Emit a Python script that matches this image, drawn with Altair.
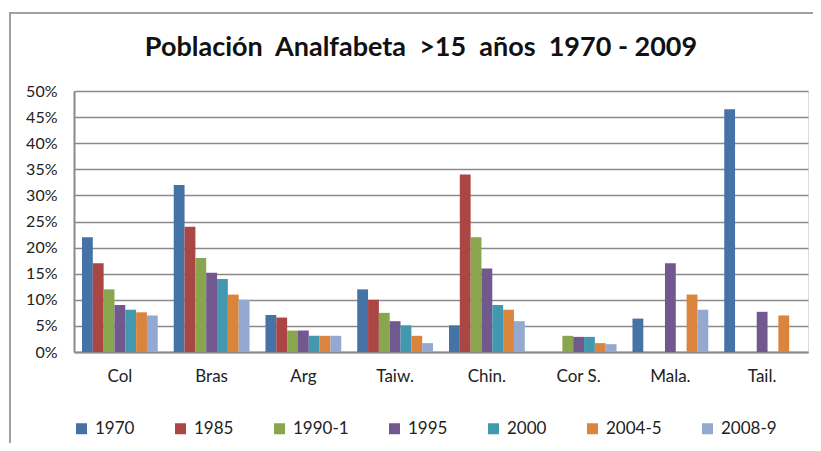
import altair as alt
import pandas as pd

categories = ["Col", "Bras", "Arg", "Taiw.", "Chin.", "Cor S.", "Mala.", "Tail."]
series = ["1970", "1985", "1990-1", "1995", "2000", "2004-5", "2008-9"]
colors = ["#4572A7", "#AA4643", "#89A54E", "#71588F", "#4198AF", "#DB843D", "#93A9CF"]

v1970 = [22.0, 32.0, 7.1, 12.0, 5.1, None, 6.4, 46.5]
v1985 = [17.0, 24.0, 6.6, 10.0, 34.0, None, None, None]
v1990 = [12.0, 18.0, 4.1, 7.5, 22.0, 3.1, None, None]
v1995 = [9.0, 15.2, 4.1, 5.9, 16.0, 2.9, 17.0, 7.7]
v2000 = [8.1, 14.0, 3.1, 5.1, 9.0, 2.9, None, None]
v2004 = [7.6, 11.0, 3.1, 3.1, 8.1, 1.7, 11.0, 7.0]
v2008 = [7.0, 10.0, 3.1, 1.7, 5.9, 1.5, 8.1, None]

values = [v1970, v1985, v1990, v1995, v2000, v2004, v2008]
rows = []
for s, vals in zip(series, values):
    for c, v in zip(categories, vals):
        if v is not None:
            rows.append({"pais": c, "serie": s, "valor": v / 100.0})
df = pd.DataFrame(rows)

FONT = "Lato"
NB = "\u00a0"
title_text = f"Población{NB}{NB}Analfabeta{NB}{NB}>15{NB}{NB}años{NB}{NB}1970 - 2009"

bars = alt.Chart(df).mark_bar().encode(
    x=alt.X("pais:N", sort=categories,
            scale=alt.Scale(paddingInner=0.174, paddingOuter=0.087),
            axis=alt.Axis(title=None, labelAngle=0, tickSize=0, labelPadding=16,
                          labelFontSize=17, labelFont=FONT, labelColor="#222",
                          domainColor="#8a8a8a", domainWidth=2)),
    xOffset=alt.XOffset("serie:N", scale=alt.Scale(domain=series)),
    y=alt.Y("valor:Q", scale=alt.Scale(domain=[0, 0.5], nice=False),
            axis=alt.Axis(title=None, format=".0%", values=[i * 0.05 for i in range(11)],
                          tickSize=0, labelPadding=17, labelFontSize=16, labelFont=FONT,
                          labelColor="#222", grid=True, gridColor="#8a8a8a", gridWidth=1.6,
                          domainColor="#8a8a8a", domainWidth=2)),
    color=alt.Color("serie:N", scale=alt.Scale(domain=series, range=colors),
                    legend=alt.Legend(title=None, orient="none", direction="horizontal",
                                      legendX=-1, legendY=329, symbolType="square",
                                      symbolSize=121, symbolStrokeWidth=0, symbolOpacity=1,
                                      labelFont=FONT, labelFontSize=17, labelColor="#222",
                                      labelOffset=5, columnPadding=37)),
)

frame = alt.Chart(alt.Data(values=[{}])).mark_rect(
    fill="transparent", stroke="#a0a0a0", strokeWidth=2).encode(
    x=alt.value(-64), x2=alt.value(820), y=alt.value(-78), y2=alt.value(420))

chart = alt.layer(frame, bars).properties(
    width=734, height=261,
    autosize=alt.AutoSizeParams(type="none"),
    padding={"left": 66, "top": 83, "right": 5, "bottom": 91},
    title=alt.TitleParams(title_text,
                          font=FONT, fontSize=27, fontWeight="bold", color="#111",
                          anchor="middle", frame="group", dx=-20, offset=-71,
                          baseline="alphabetic"),
).configure_view(strokeOpacity=0).configure(background="white")

chart.save("out.html", embed_options={"renderer": "svg", "actions": False})
